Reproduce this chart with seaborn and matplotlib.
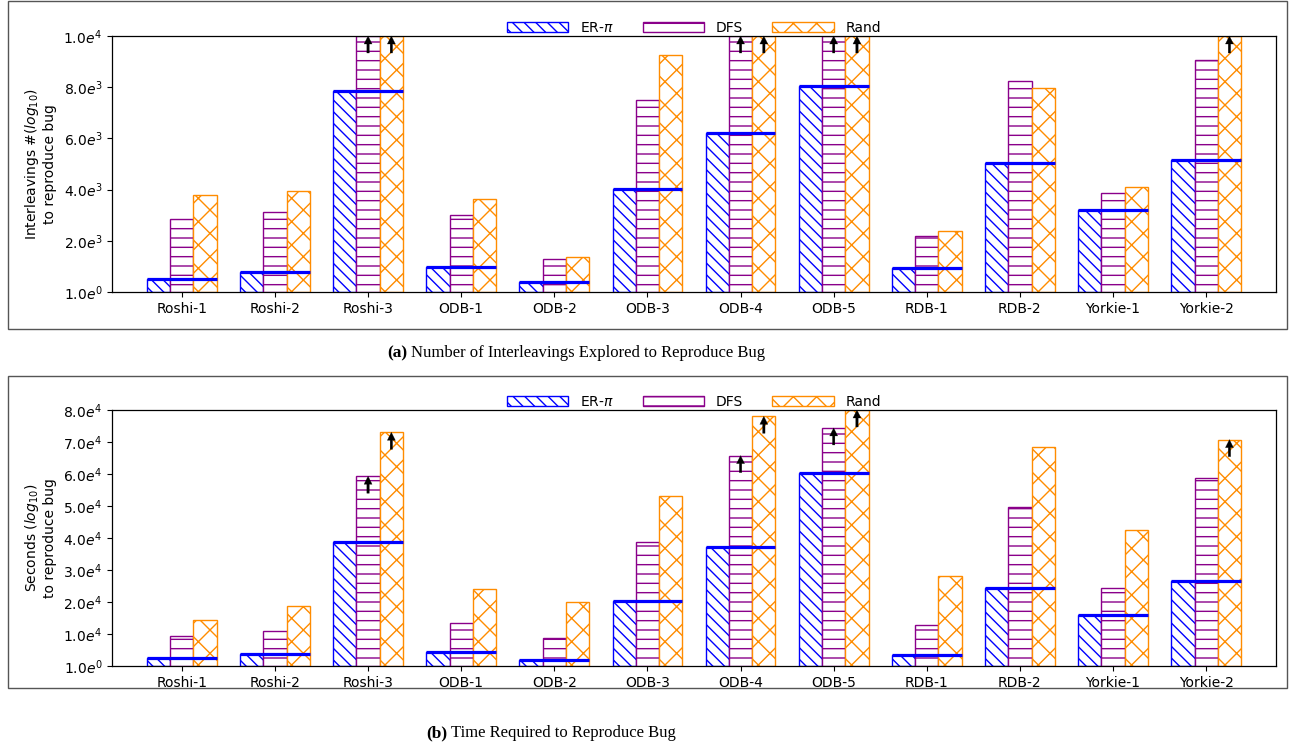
import numpy as np
import pandas as pd
import matplotlib
matplotlib.use("Agg")
import matplotlib.pyplot as plt
import seaborn as sns
from matplotlib.patches import Rectangle

# ---------------- data ----------------
benchmarks = ["Roshi-1", "Roshi-2", "Roshi-3", "ODB-1", "ODB-2", "ODB-3",
              "ODB-4", "ODB-5", "RDB-1", "RDB-2", "Yorkie-1", "Yorkie-2"]
methods = [r"ER-$\pi$", "DFS", "Rand"]

inter_er = [500, 765, 7860, 975, 375, 4040, 6200, 8030, 950, 5050, 3220, 5160]
inter_dfs = [2870, 3130, 10000, 3000, 1290, 7510, 10000, 10000, 2170, 8240, 3870, 9070]
inter_rand = [3780, 3940, 10000, 3620, 1350, 9250, 10000, 10000, 2390, 7950, 4120, 10000]
inter_dfs_timeout = [False, False, True, False, False, False, True, True, False, False, False, False]
inter_rand_timeout = [False, False, True, False, False, False, True, True, False, False, False, True]

time_er = [2400, 3750, 38700, 4270, 1870, 20300, 37250, 60340, 3430, 24340, 16020, 26630]
time_dfs = [9260, 11030, 59300, 13320, 8640, 38600, 65750, 74390, 12900, 49830, 24340, 58780]
time_rand = [14360, 18830, 73030, 23930, 19870, 53270, 78030, 80000, 27990, 68460, 42550, 70750]
time_dfs_timeout = [False, False, True, False, False, False, True, True, False, False, False, False]
time_rand_timeout = [False, False, True, False, False, False, True, True, False, False, False, True]

inter_ticks = [0, 2000, 4000, 6000, 8000, 10000]
inter_ticklabels = [r"$1.0e^{0}$", r"$2.0e^{3}$", r"$4.0e^{3}$", r"$6.0e^{3}$",
                    r"$8.0e^{3}$", r"$1.0e^{4}$"]
time_ticks = [0, 10000, 20000, 30000, 40000, 50000, 60000, 70000, 80000]
time_ticklabels = [r"$1.0e^{0}$", r"$1.0e^{4}$", r"$2.0e^{4}$", r"$3.0e^{4}$",
                   r"$4.0e^{4}$", r"$5.0e^{4}$", r"$6.0e^{4}$", r"$7.0e^{4}$",
                   r"$8.0e^{4}$"]

colors = ["#0000ff", "#8a008a", "#ff8c00"]
hatches = ["\\" * 8, "-----", "xxxx"]

# ---------------- scale helpers ----------------
W, H = 1291, 748
DPI = 280
K = 100.0 / DPI          # points designed at 100 dpi -> points at DPI
P = 72.0 / DPI           # pixels -> points

plt.rcParams.update({
    "font.family": ["DejaVu Sans"],
    "font.size": 10 * K,
    "axes.linewidth": 0.9 * K,
    "xtick.major.size": 3.5 * K,
    "ytick.major.size": 3.5 * K,
    "xtick.major.width": 0.8 * K,
    "ytick.major.width": 0.8 * K,
    "xtick.major.pad": 3.5 * K,
    "ytick.major.pad": 3.5 * K,
    "axes.labelpad": 5 * K,
    "hatch.linewidth": 1.0 * K,
    "legend.fontsize": 10 * K,
    "mathtext.fontset": "dejavusans",
})

fig = plt.figure(figsize=(W / DPI, H / DPI), dpi=DPI)


def fx(px):
    return px / W


def fy(py):
    return 1 - py / H


def panel(ax, er, dfs, rand, dfs_to, rand_to, ticks, ticklabels, ylabel, ytop):
    df = pd.DataFrame({
        "bench": benchmarks * 3,
        "method": [m for m in methods for _ in benchmarks],
        "value": list(er) + list(dfs) + list(rand),
    })
    sns.barplot(data=df, x="bench", y="value", hue="method", order=benchmarks,
                hue_order=methods, palette=dict(zip(methods, ["white"] * 3)),
                width=0.75, gap=0, errorbar=None, ax=ax, legend=False,
                saturation=1)
    for cont, c, h in zip(ax.containers, colors, hatches):
        for p in cont:
            p.set_facecolor("white")
            p.set_edgecolor(c)
            p.set_hatch(h)
            p.set_linewidth(1.0 * K)
    idx = np.arange(len(benchmarks))
    ax.hlines(er, idx - 0.375, idx + 0.375, colors="#0000ff", lw=3.2 * P, zorder=4)
    for off, vals, tos in ((0.0, dfs, dfs_to), (0.25, rand, rand_to)):
        for j, (v, t) in enumerate(zip(vals, tos)):
            if t:
                ax.annotate("", xy=(j + off, min(v, ytop)), xytext=(0, -17 * P),
                            textcoords="offset points",
                            arrowprops=dict(facecolor="black", edgecolor="black",
                                            width=2.4 * P, headwidth=8 * P,
                                            headlength=8 * P, shrink=0, lw=0.2 * K),
                            zorder=5, annotation_clip=False)
    ax.set_xlim(-0.75, len(benchmarks) - 0.25)
    ax.set_ylim(0, ytop)
    ax.set_yticks(ticks)
    ax.set_yticklabels(ticklabels)
    ax.set_xlabel("")
    ax.set_ylabel(ylabel, linespacing=1.1)
    for s in ax.spines.values():
        s.set_color("black")
    ax.legend(ax.containers, methods, ncol=3, loc="lower center",
              bbox_to_anchor=(0.5, 1.0), frameon=False, borderaxespad=0.0,
              borderpad=0.1, handlelength=4.4, handleheight=0.75,
              handletextpad=0.85, columnspacing=2.1)


ax1 = fig.add_axes([fx(112), fy(292), fx(1276) - fx(112), fy(36) - fy(292)])
panel(ax1, inter_er, inter_dfs, inter_rand, inter_dfs_timeout, inter_rand_timeout,
      inter_ticks, inter_ticklabels,
      "Interleavings #($log_{10}$)\nto reproduce bug", 10000)

ax2 = fig.add_axes([fx(112), fy(666), fx(1276) - fx(112), fy(410) - fy(666)])
panel(ax2, time_er, time_dfs, time_rand, time_dfs_timeout, time_rand_timeout,
      time_ticks, time_ticklabels,
      "Seconds ($log_{10}$)\nto reproduce bug", 80000)

# frames around each sub-figure
for (x0, y0, x1, y1) in ((8, 1, 1287, 329), (8, 376, 1287, 688)):
    fig.add_artist(Rectangle((fx(x0), fy(y1)), fx(x1) - fx(x0), fy(y0) - fy(y1),
                             transform=fig.transFigure, fill=False,
                             edgecolor="#555555", lw=1.4 * P))

# captions
serif = ["Liberation Serif", "DejaVu Serif"]
cap_size = 12.0 * K
fig.text(fx(407), fy(353), "(a)", ha="right", va="center", fontweight="bold",
         family=serif, fontsize=cap_size * 1.04)
fig.text(fx(411), fy(353), "Number of Interleavings Explored to Reproduce Bug",
         ha="left", va="center", family=serif, fontsize=cap_size)
fig.text(fx(447), fy(733), "(b)", ha="right", va="center", fontweight="bold",
         family=serif, fontsize=cap_size * 1.04)
fig.text(fx(451), fy(733), "Time Required to Reproduce Bug",
         ha="left", va="center", family=serif, fontsize=cap_size)

fig.savefig("out.png", dpi=DPI)
